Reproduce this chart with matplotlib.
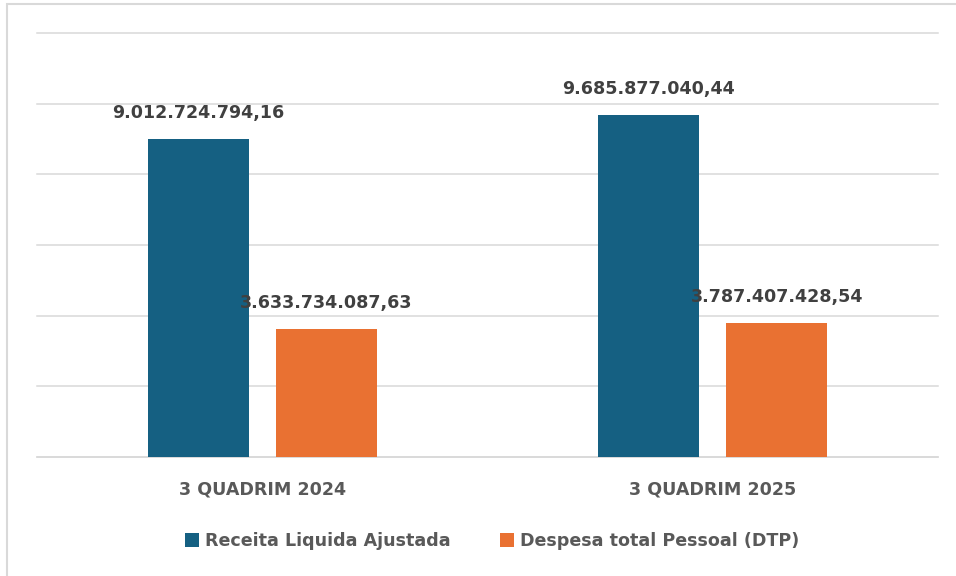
import matplotlib
matplotlib.use("Agg")
import matplotlib.pyplot as plt
from matplotlib.patches import Rectangle, Patch
import numpy as np

categories = ["3 QUADRIM 2024", "3 QUADRIM 2025"]
series_names = ["Receita Liquida Ajustada", "Despesa total Pessoal (DTP)"]
receita = [9012724794.16, 9685877040.44]
despesa = [3633734087.63, 3787407428.54]
colors = ["#156082", "#E97132"]

def fmt_br(v):
    s = f"{v:,.2f}"
    return s.replace(",", "X").replace(".", ",").replace("X", ".")

plt.rcParams['font.family'] = ['DejaVu Sans']
FS = 12.6

fig = plt.figure(figsize=(9.56, 5.76), dpi=100)
fig.patch.set_facecolor("white")
# outer border
fig.add_artist(Rectangle((7/956, -0.1), 1.2, 1 - 4/576 + 0.1, transform=fig.transFigure,
                         fill=False, edgecolor="#d9d9d9", linewidth=1.5))

ax = fig.add_axes([37/956, 1 - 457/576, (938 - 37)/956, (457 - 33)/576])
x = np.arange(len(categories))
w = 0.224
off = 0.142
b1 = ax.bar(x - off, receita, w, color=colors[0], label=series_names[0], zorder=3)
b2 = ax.bar(x + off, despesa, w, color=colors[1], label=series_names[1], zorder=3)

for bars, vals in ((b1, receita), (b2, despesa)):
    for bar, v in zip(bars, vals):
        ax.annotate(fmt_br(v), (bar.get_x() + bar.get_width()/2, v),
                    xytext=(0, 18.5), textcoords="offset points",
                    ha="center", va="center", fontsize=FS, fontweight="bold",
                    color="#404040")

ax.set_xlim(-0.5, 1.5)
ax.set_ylim(0, 12e9)
ax.set_yticks(np.arange(0, 12e9 + 1, 2e9))
ax.yaxis.grid(True, color="#d9d9d9", linewidth=1.1, zorder=0)
for gl in ax.get_ygridlines():
    gl.set_clip_on(False)
ax.set_yticklabels([])
ax.tick_params(axis="y", length=0)
ax.set_xticks(x)
ax.set_xticklabels(categories, fontsize=FS, fontweight="bold", color="#595959")
ax.tick_params(axis="x", length=0, pad=17)
for s in ["top", "right", "left"]:
    ax.spines[s].set_visible(False)
ax.spines["bottom"].set_color("#d9d9d9")
ax.spines["bottom"].set_linewidth(1.1)
ax.set_facecolor("white")

handles = [Patch(facecolor=c, edgecolor="none") for c in colors]
leg = fig.legend(handles, series_names, loc="center", bbox_to_anchor=(492/956, 1 - 541/576),
                 ncol=2, frameon=False, handlelength=0.8, handleheight=0.8,
                 handletextpad=0.35, columnspacing=2.8,
                 prop={"size": FS, "weight": "bold"})
for t in leg.get_texts():
    t.set_color("#595959")

fig.savefig("out.png", dpi=100, facecolor="white")
